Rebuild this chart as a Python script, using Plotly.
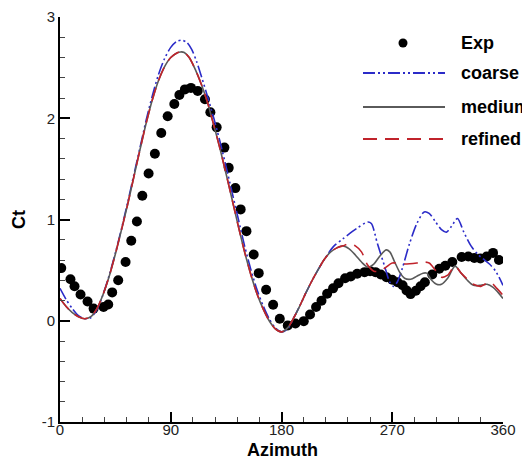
import plotly.graph_objects as go

# ---------------- data ----------------
exp_az = [1, 8.5, 11.8, 16.7, 22.4, 27.3, 35.4, 39.2, 42.4, 47.3, 53.3, 57.9, 62.5, 66.9, 72, 77.1,
          82.3, 87.5, 92.9, 97, 101.5, 106.4, 111.9, 117.8, 122.2, 127.3, 133.6, 137.1, 142.5, 146.8,
          151.5, 157.4, 161.5, 167.5, 173.2, 178.6, 185.1, 191.3, 198.1, 203.2, 208.1, 212.5, 217.1,
          221.9, 226.3, 231.7, 236.3, 241.5, 247.5, 252, 256.4, 260.7, 265.3, 270, 274.3, 278.4,
          281.6, 284.9, 289.2, 293, 296.5, 302.5, 308.2, 313.1, 318.8, 326.4, 331.8, 336.7, 341.6,
          346.7, 351.9, 356.7]
exp_ct = [0.52, 0.41, 0.34, 0.26, 0.19, 0.12, 0.135, 0.16, 0.28, 0.40, 0.58, 0.79, 0.98, 1.235,
          1.455, 1.65, 1.855, 2.02, 2.14, 2.23, 2.285, 2.30, 2.27, 2.187, 2.06, 1.91, 1.71, 1.51,
          1.31, 1.10, 0.885, 0.655, 0.47, 0.306, 0.158, 0.02, -0.046, -0.027, -0.004, 0.062, 0.135,
          0.197, 0.267, 0.32, 0.37, 0.42, 0.438, 0.464, 0.48, 0.49, 0.48, 0.457, 0.43, 0.405, 0.38,
          0.35, 0.30, 0.263, 0.296, 0.34, 0.38, 0.457, 0.513, 0.543, 0.58, 0.63, 0.635, 0.62, 0.615,
          0.635, 0.67, 0.60]

coarse_az = [0, 5, 10, 15, 20, 25, 30, 35, 40, 45, 50, 55, 60, 65, 70, 75, 80, 85, 90, 95, 99, 103,
             107, 111, 115, 120, 125, 130, 135, 140, 145, 150, 155, 160, 165, 170, 175, 180, 185,
             190, 195, 200, 205, 210, 215, 222, 230, 241, 250, 253, 258, 264, 268, 271, 274, 278,
             284, 290, 296, 300, 305, 310, 314, 318, 323, 328, 334, 340, 344, 349, 354, 360]
coarse_ct = [0.32, 0.21, 0.12, 0.05, 0.02, 0.03, 0.11, 0.26, 0.45, 0.67, 0.91, 1.17, 1.44, 1.71,
             1.98, 2.22, 2.43, 2.59, 2.70, 2.76, 2.77, 2.75, 2.68, 2.56, 2.41, 2.21, 2.00, 1.77,
             1.52, 1.26, 1.00, 0.74, 0.51, 0.31, 0.15, 0.02, -0.07, -0.11, -0.08, 0.03, 0.15, 0.28,
             0.40, 0.51, 0.61, 0.73, 0.81, 0.91, 0.975, 0.96, 0.76, 0.53, 0.38, 0.34, 0.38, 0.51,
             0.76, 0.96, 1.075, 1.06, 0.98, 0.90, 0.875, 0.93, 1.01, 0.88, 0.74, 0.65, 0.61, 0.56,
             0.49, 0.35]

medium_az = [0, 5, 10, 15, 20, 25, 30, 35, 40, 45, 50, 55, 60, 65, 70, 75, 80, 85, 90, 95, 98, 101,
             105, 110, 115, 120, 125, 130, 135, 140, 145, 150, 155, 160, 165, 170, 175, 180, 185,
             190, 195, 200, 205, 210, 215, 220, 225, 230, 235, 240, 245, 250, 255, 260, 265, 268,
             272, 276, 280, 285, 290, 295, 298, 302, 306, 310, 315, 321, 326, 331, 336, 342, 347,
             352, 356, 360]
medium_ct = [0.22, 0.14, 0.08, 0.04, 0.02, 0.04, 0.12, 0.26, 0.44, 0.66, 0.90, 1.15, 1.42, 1.69,
             1.95, 2.18, 2.37, 2.51, 2.60, 2.645, 2.655, 2.65, 2.60, 2.48, 2.33, 2.15, 1.93, 1.70,
             1.45, 1.19, 0.93, 0.68, 0.46, 0.27, 0.12, 0.00, -0.08, -0.11, -0.07, 0.03, 0.15, 0.28,
             0.40, 0.51, 0.61, 0.68, 0.72, 0.74, 0.71, 0.65, 0.58, 0.53, 0.56, 0.64, 0.70, 0.68,
             0.58, 0.48, 0.42, 0.41, 0.44, 0.47, 0.47, 0.40, 0.36, 0.36, 0.42, 0.54, 0.47, 0.40,
             0.35, 0.35, 0.36, 0.33, 0.28, 0.22]

refined_az = [0, 5, 10, 15, 20, 25, 30, 35, 40, 45, 50, 55, 60, 65, 70, 75, 80, 85, 90, 95, 98, 101,
              105, 110, 115, 120, 125, 130, 135, 140, 145, 150, 155, 160, 165, 170, 175, 180, 185,
              190, 195, 200, 205, 210, 215, 220, 225, 230, 235, 240, 245, 250, 255, 260, 265, 270,
              280, 290, 295, 300, 305, 310, 315, 321, 326, 331, 336, 342, 347, 351, 355, 360]
refined_ct = [0.22, 0.14, 0.08, 0.04, 0.02, 0.04, 0.12, 0.26, 0.44, 0.66, 0.90, 1.15, 1.42, 1.69,
              1.95, 2.18, 2.37, 2.51, 2.60, 2.645, 2.655, 2.65, 2.60, 2.48, 2.33, 2.15, 1.93, 1.70,
              1.45, 1.19, 0.93, 0.68, 0.46, 0.27, 0.12, 0.00, -0.08, -0.11, -0.07, 0.03, 0.15, 0.28,
              0.40, 0.51, 0.61, 0.68, 0.72, 0.74, 0.76, 0.74, 0.68, 0.55, 0.49, 0.49, 0.53, 0.57,
              0.56, 0.57, 0.58, 0.57, 0.50, 0.43, 0.45, 0.54, 0.47, 0.41, 0.36, 0.34, 0.37, 0.37,
              0.32, 0.25]

x_ticks = [0, 90, 180, 270, 360]
x_ticklabels = ["0", "90", "180", "270", "360"]
y_ticks = [-1, 0, 1, 2, 3]
y_ticklabels = ["-1", "0", "1", "2", "3"]
legend_labels = ["Exp", "coarse", "medium", "refined"]
x_title = "Azimuth"
y_title = "Ct"

# ---------------- styles ----------------
FONT = "Arial, Liberation Sans, sans-serif"
BLUE = "#2b2bc8"
GRAY = "#5a5a5a"
RED = "#c0232b"
DASH_COARSE = "12px,3px,2px,3px,2px,3px"
DASH_REFINED = "14px,8px"

W, H = 522, 459
ML, MR, MT, MB = 60, 19, 17, 37
PW, PH = W - ML - MR, H - MT - MB


def px_x(px):
    return (px - ML) / PW


def px_y(py):
    return (H - MB - py) / PH


fig = go.Figure()
fig.add_trace(go.Scatter(x=exp_az, y=exp_ct, mode="markers", name="Exp",
                         marker=dict(color="black", size=10), showlegend=False))
fig.add_trace(go.Scatter(x=coarse_az, y=coarse_ct, mode="lines", name="coarse",
                         line=dict(color=BLUE, width=1.6, dash=DASH_COARSE, shape="spline",
                                   smoothing=0.8), showlegend=False))
fig.add_trace(go.Scatter(x=medium_az, y=medium_ct, mode="lines", name="medium",
                         line=dict(color=GRAY, width=1.6, shape="spline", smoothing=0.8),
                         showlegend=False))
fig.add_trace(go.Scatter(x=refined_az, y=refined_ct, mode="lines", name="refined",
                         line=dict(color=RED, width=1.6, dash=DASH_REFINED, shape="spline",
                                   smoothing=0.8), showlegend=False))

# ---------------- manual legend ----------------
leg_y = [43, 73, 107, 139]
shapes = []
annotations = []
shapes.append(dict(type="circle", xref="paper", yref="paper", xsizemode="pixel",
                   ysizemode="pixel", xanchor=px_x(403), yanchor=px_y(leg_y[0]),
                   x0=-4.5, x1=4.5, y0=-4.5, y1=4.5, fillcolor="black",
                   line=dict(color="black", width=0)))
leg_styles = [(BLUE, DASH_COARSE), (GRAY, "solid"), (RED, DASH_REFINED)]
for (col, dsh), yy in zip(leg_styles, leg_y[1:]):
    shapes.append(dict(type="line", xref="paper", yref="paper",
                       x0=px_x(363), x1=px_x(445), y0=px_y(yy), y1=px_y(yy),
                       line=dict(color=col, width=2, dash=dsh)))
for lab, yy in zip(legend_labels, leg_y):
    annotations.append(dict(text="<b>%s</b>" % lab, xref="paper", yref="paper",
                            x=px_x(459), y=px_y(yy), xanchor="left", yanchor="middle",
                            showarrow=False, font=dict(family=FONT, size=18, color="black")))

# axis titles as annotations (exact placement)
annotations.append(dict(text="<b>%s</b>" % x_title, xref="paper", yref="paper",
                        x=px_x(282), y=px_y(450), xanchor="center", yanchor="middle",
                        showarrow=False, font=dict(family=FONT, size=18, color="black")))
annotations.append(dict(text="<b>%s</b>" % y_title, xref="paper", yref="paper",
                        x=px_x(19), y=px_y(220), xanchor="center", yanchor="middle",
                        textangle=-90, showarrow=False,
                        font=dict(family=FONT, size=18, color="black")))

fig.update_layout(
    width=W, height=H,
    margin=dict(l=ML, r=MR, t=MT, b=MB),
    paper_bgcolor="white", plot_bgcolor="white",
    shapes=shapes, annotations=annotations,
    font=dict(family=FONT, color="#222"),
    xaxis=dict(range=[0, 360], tickmode="array", tickvals=x_ticks, ticktext=x_ticklabels,
               showgrid=False, zeroline=False, automargin=False,
               showline=True, linecolor="black", linewidth=2,
               ticks="inside", ticklen=10, tickwidth=2, tickcolor="black",
               ticklabelstandoff=-7,
               tickfont=dict(family=FONT, size=15, color="#222"),
               minor=dict(ticks="inside", ticklen=5, tickwidth=1, tickcolor="#444",
                          tickmode="linear", tick0=0, dtick=18, showgrid=False)),
    yaxis=dict(range=[-1, 3], tickmode="array", tickvals=y_ticks, ticktext=y_ticklabels,
               showgrid=False, zeroline=False, automargin=False,
               showline=True, linecolor="black", linewidth=2,
               ticks="inside", ticklen=10, tickwidth=2, tickcolor="black",
               tickfont=dict(family=FONT, size=15, color="#222"),
               minor=dict(ticks="inside", ticklen=5, tickwidth=1, tickcolor="#444",
                          tickmode="linear", tick0=0, dtick=0.2, showgrid=False)),
)

fig.write_html("out.html")
